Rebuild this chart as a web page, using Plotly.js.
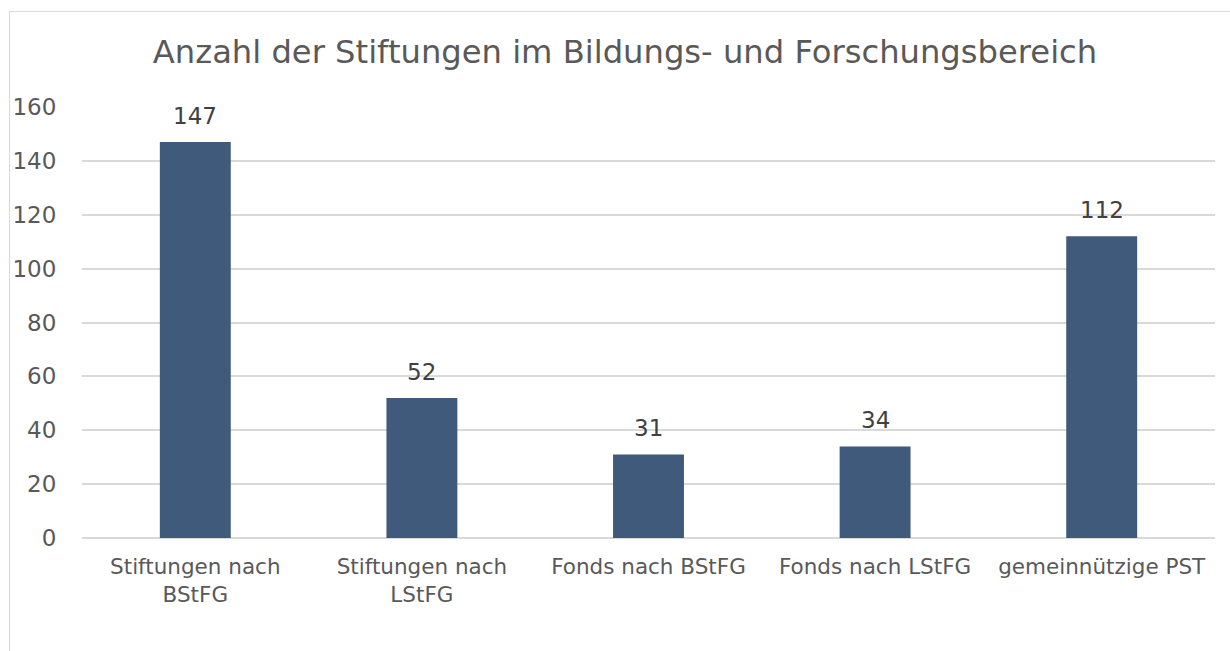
<!DOCTYPE html>
<html>
<head>
<meta charset="utf-8">
<script src="https://cdn.plot.ly/plotly-3.0.1.min.js"></script>
<style>
  html, body { margin: 0; padding: 0; background: #fff; overflow: hidden; }
  #frame { position: absolute; left: 9px; top: 11px; width: 1300px; height: 700px; border: 1px solid #d9d9d9; }
  #chart { position: absolute; left: 0; top: 0; width: 1230px; height: 651px; }
</style>
</head>
<body>
<div id="frame"></div>
<div id="chart"></div>
<script>
const categories = ["Stiftungen nach<br>BStFG", "Stiftungen nach<br>LStFG", "Fonds nach BStFG", "Fonds nach LStFG", "gemeinnützige PST"];
const values = [147, 52, 31, 34, 112];
const yTicks = [0, 20, 40, 60, 80, 100, 120, 140, 160];

const font = "DejaVu Sans, Verdana, sans-serif";

const trace = {
  type: "bar",
  x: categories,
  y: values,
  marker: { color: "#3f5a7a", line: { width: 0 } },
  hoverinfo: "none"
};

const annotations = categories.map((c, i) => ({
  x: c, y: values[i], xref: "x", yref: "y",
  text: String(values[i]), showarrow: false,
  yanchor: "bottom", yshift: 11,
  font: { family: font, size: 23, color: "#404040" }
}));

const layout = {
  width: 1230, height: 651,
  margin: { l: 82, r: 15, t: 107, b: 113 },
  paper_bgcolor: "rgba(0,0,0,0)",
  plot_bgcolor: "rgba(0,0,0,0)",
  bargap: 0.687,
  showlegend: false,
  title: {
    text: "Anzahl der Stiftungen im Bildungs- und Forschungsbereich",
    font: { family: font, size: 32.2, color: "#595959" },
    x: 625 / 1230, xref: "container", xanchor: "center",
    y: 1 - 52 / 651, yref: "container", yanchor: "middle"
  },
  xaxis: {
    type: "category",
    tickfont: { family: font, size: 21.5, color: "#595959" },
    ticks: "outside", ticklen: 9, tickcolor: "rgba(0,0,0,0)",
    showgrid: false, showline: false, zeroline: false, fixedrange: true
  },
  yaxis: {
    range: [0, 160],
    tickvals: yTicks,
    ticktext: yTicks.map(String),
    tickfont: { family: font, size: 23, color: "#595959" },
    ticks: "outside", ticklen: 20, tickcolor: "rgba(0,0,0,0)",
    showgrid: true, gridcolor: "#d9d9d9", gridwidth: 2,
    zeroline: true, zerolinecolor: "#d9d9d9", zerolinewidth: 2,
    showline: false, fixedrange: true
  },
  annotations: annotations
};

Plotly.newPlot("chart", [trace], layout, { displayModeBar: false, staticPlot: true });
</script>
</body>
</html>
